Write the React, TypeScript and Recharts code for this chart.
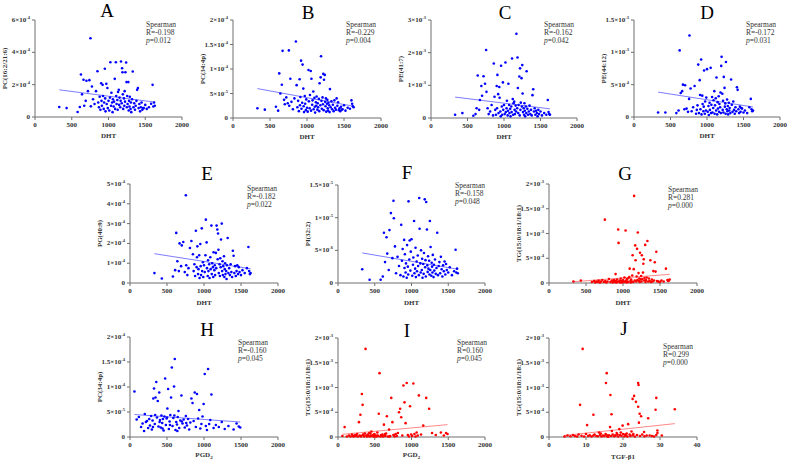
import React from 'react';
import { ScatterChart, Scatter, XAxis, YAxis, ReferenceLine } from 'recharts';

const FONT = '"Liberation Serif", "Times New Roman", serif';
const BLUE = '#0000ff';
const RED = '#ff0000';

// shared x values (same subjects in panels A-G)
const DHT = [
  330, 430, 580, 610, 625, 640, 660, 670, 690, 700,
  720, 740, 755, 760, 775, 790, 810, 830, 850, 860,
  870, 880, 890, 900, 905, 910, 920, 925, 935, 940,
  950, 955, 960, 970, 975, 985, 990, 1000, 1010, 1020,
  1025, 1035, 1040, 1050, 1055, 1060, 1070, 1075, 1085, 1090,
  1100, 1105, 1110, 1120, 1125, 1130, 1140, 1145, 1150, 1160,
  1165, 1170, 1180, 1185, 1190, 1195, 1200, 1210, 1215, 1220,
  1225, 1230, 1240, 1245, 1250, 1255, 1260, 1270, 1275, 1280,
  1285, 1290, 1300, 1305, 1310, 1320, 1330, 1340, 1350, 1360,
  1370, 1380, 1390, 1400, 1410, 1420, 1430, 1440, 1450, 1460,
  1480, 1500, 1520, 1550, 1580, 1600, 1610, 1620, 1630, 1470,
];

// A: PC(16:2/21:6), x1e-4
const PC_16_2_21_6 = [
  0.62, 0.55, 0.31, 0.62, 2.63, 1.4, 2.3, 0.7, 1.0, 2.24,
  1.6, 2.28, 4.87, 0.66, 1.89, 1.1, 0.8, 1.6, 2.83, 0.9,
  0.6, 1.25, 0.45, 2.09, 1.0, 0.7, 1.99, 1.3, 0.5, 0.9,
  2.98, 1.15, 0.35, 2.05, 0.8, 1.79, 0.55, 1.0, 0.4, 1.2,
  3.39, 0.7, 1.5, 0.9, 0.3, 1.1, 0.65, 0.95, 2.36, 0.5,
  3.39, 1.3, 0.8, 1.05, 0.45, 1.55, 1.68, 0.75, 1.2, 0.6,
  1.0, 3.43, 0.85, 3.02, 2.77, 1.4, 0.5, 1.15, 0.7, 1.6,
  0.95, 2.77, 3.37, 2.16, 0.6, 1.3, 0.8, 2.16, 0.4, 1.0,
  0.65, 1.25, 0.5, 0.9, 0.3, 1.1, 2.81, 0.6, 0.85, 0.45,
  0.7, 1.0, 1.68, 1.79, 0.55, 0.8, 0.35, 0.6, 0.9, 0.45,
  0.55, 0.75, 0.5, 0.6, 0.82, 1.99, 0.65, 0.9, 0.7, 0.55,
];

// B: PC(34:4p), x1e-5
const PC_34_4P = [
  2.0, 1.7, 2.3, 1.5, 9.1, 5.0, 6.8, 13.7, 3.7, 2.8,
  4.2, 3.0, 13.8, 2.5, 8.0, 3.3, 1.8, 4.0, 15.6, 6.7,
  2.2, 3.5, 1.4, 7.9, 2.6, 4.3, 11.7, 1.9, 3.1, 10.9,
  6.0, 2.4, 1.2, 4.5, 2.9, 1.6, 3.8, 2.1, 1.3, 9.8,
  3.4, 2.0, 4.7, 9.6, 1.5, 8.0, 2.7, 3.6, 5.4, 1.8,
  4.1, 2.3, 1.1, 3.2, 2.5, 4.4, 1.7, 3.0, 2.2, 3.9,
  1.4, 7.1, 2.6, 8.3, 12.6, 3.5, 1.9, 4.2, 2.8, 9.0,
  1.6, 7.8, 8.8, 3.3, 2.4, 4.0, 1.3, 2.9, 3.7, 2.0,
  1.5, 3.1, 2.6, 1.2, 5.9, 2.2, 3.4, 1.8, 2.7, 1.4,
  3.6, 2.1, 1.7, 4.0, 2.5, 3.2, 1.6, 2.0, 1.4, 2.3,
  1.8, 2.6, 1.5, 2.1, 1.9, 3.6, 2.9, 2.4, 2.2, 1.7,
];

// C: PE(41:7), x1e-3
const PE_41_7 = [
  0.10, 0.15, 0.07, 0.12, 0.30, 1.30, 0.25, 0.55, 0.98, 0.68,
  1.28, 1.05, 2.08, 0.80, 0.30, 0.12, 0.20, 0.40, 0.08, 1.67,
  0.65, 0.25, 0.10, 0.98, 0.30, 1.32, 0.73, 0.15, 0.95, 0.62,
  0.20, 0.05, 1.60, 0.35, 0.10, 1.09, 0.25, 0.40, 0.12, 1.70,
  0.18, 0.30, 0.53, 0.08, 0.22, 1.05, 0.40, 0.15, 0.28, 0.05,
  0.35, 0.18, 1.82, 0.58, 0.10, 0.45, 0.50, 0.25, 0.12, 0.38,
  0.20, 2.58, 0.30, 1.85, 0.92, 0.15, 0.40, 1.27, 0.08, 1.52,
  0.25, 0.47, 1.22, 0.35, 1.62, 0.75, 0.18, 0.30, 0.10, 0.45,
  0.22, 0.05, 0.35, 0.15, 1.43, 0.28, 0.10, 0.20, 0.38, 0.12,
  0.25, 0.08, 0.70, 0.88, 0.20, 0.30, 0.10, 0.22, 0.15, 0.05,
  0.12, 0.20, 0.08, 0.15, 0.10, 0.55, 0.18, 0.12, 0.10, 0.25,
];

// D: PE(44:12), x1e-4
const PE_44_12 = [
  0.7, 0.7, 0.6, 1.0, 10.3, 3.7, 4.0, 5.0, 1.2, 4.9,
  1.3, 0.8, 2.8, 12.6, 4.4, 0.9, 1.5, 4.8, 0.5, 1.1,
  1.8, 8.1, 0.6, 5.7, 3.4, 1.2, 8.9, 0.4, 3.3, 2.0,
  0.9, 1.6, 7.2, 0.5, 2.4, 1.0, 3.0, 7.4, 0.8, 1.7,
  0.3, 2.2, 1.1, 7.6, 0.6, 1.9, 3.1, 0.7, 1.4, 2.6,
  4.0, 0.5, 1.8, 2.9, 1.0, 6.1, 0.4, 2.3, 1.3, 3.2,
  0.8, 2.0, 1.5, 3.8, 0.6, 7.9, 9.3, 3.6, 1.1, 2.5,
  0.7, 6.2, 4.5, 1.6, 2.1, 0.5, 8.5, 1.2, 2.7, 0.9,
  1.7, 0.4, 2.2, 1.0, 1.4, 0.6, 5.8, 1.9, 0.8, 2.4,
  1.1, 0.5, 1.5, 0.9, 4.6, 4.2, 1.2, 0.6, 1.6, 0.8,
  1.3, 0.7, 1.0, 0.6, 1.5, 2.8, 1.2, 0.9, 1.0, 1.4,
];

// E: PG(40:9), x1e-4
const PG_40_9 = [
  0.50, 0.23, 0.33, 0.65, 2.53, 1.10, 0.60, 2.00, 0.85, 1.90,
  2.07, 0.55, 4.43, 0.90, 0.40, 0.75, 1.77, 2.12, 1.45, 0.60,
  0.95, 0.35, 2.64, 0.80, 1.30, 1.85, 0.45, 0.70, 1.40, 0.25,
  1.97, 0.85, 0.40, 2.76, 0.60, 1.05, 0.30, 0.90, 0.55, 1.40,
  3.20, 2.05, 0.75, 0.35, 1.15, 0.60, 0.95, 0.25, 1.30, 0.70,
  2.90, 0.45, 1.00, 0.80, 0.30, 1.55, 0.65, 0.90, 0.40, 1.52,
  0.75, 2.90, 2.70, 1.20, 2.50, 1.68, 0.50, 0.95, 0.35, 1.25,
  0.80, 2.20, 3.00, 0.60, 1.10, 0.40, 0.85, 1.35, 0.30, 0.70,
  1.00, 0.45, 0.60, 0.20, 0.90, 2.27, 0.50, 0.75, 0.40, 0.95,
  0.55, 0.30, 1.63, 1.38, 0.50, 0.85, 0.35, 0.60, 0.90, 0.45,
  0.55, 0.40, 0.65, 0.50, 0.75, 1.82, 0.60, 0.45, 0.50, 0.80,
];

// F: PI(32:2), x1e-6
const PI_32_2 = [
  2.1, 0.5, 0.5, 1.0, 7.7, 3.2, 7.0, 4.5, 2.0, 8.1,
  10.7, 3.8, 12.6, 9.9, 5.6, 1.5, 4.0, 2.6, 1.2, 8.9,
  3.4, 5.2, 1.0, 6.6, 2.3, 4.4, 1.6, 3.0, 0.8, 5.8,
  2.5, 1.3, 12.5, 3.6, 6.5, 1.9, 4.8, 6.7, 1.1, 2.8,
  3.9, 9.5, 1.5, 2.2, 5.4, 0.9, 3.3, 1.8, 4.2, 2.6,
  1.2, 13.0, 8.3, 3.0, 1.6, 5.0, 2.0, 3.7, 0.8, 2.9,
  1.4, 4.6, 12.8, 2.4, 3.5, 1.0, 12.4, 8.2, 2.7, 1.7,
  4.1, 2.2, 3.4, 1.3, 9.5, 2.0, 5.5, 1.1, 3.1, 2.5,
  1.6, 4.3, 0.9, 2.8, 1.9, 3.6, 1.4, 2.3, 7.7, 1.2,
  2.6, 3.2, 1.5, 4.0, 2.1, 1.0, 2.7, 1.8, 3.3, 1.3,
  2.0, 1.6, 2.4, 1.2, 1.8, 5.1, 1.6, 2.2, 1.5, 2.9,
];

// G: TG(15:0/18:1/18:1) vs DHT, x1e-4
const TG_DHT = [
  0.3, 0.5, 0.2, 0.4, 0.1, 0.3, 0.2, 0.5, 0.1, 0.3,
  0.6, 0.2, 12.8, 0.4, 0.1, 0.3, 0.8, 0.2, 0.5, 0.1,
  0.3, 0.6, 0.2, 1.8, 0.4, 0.1, 0.7, 0.2, 10.8, 8.1,
  0.3, 0.5, 0.1, 0.9, 0.2, 0.4, 0.1, 0.6, 0.3, 1.1,
  0.2, 10.6, 0.5, 0.1, 0.8, 0.3, 0.2, 1.0, 1.2, 2.9,
  0.4, 0.1, 0.7, 0.3, 1.5, 5.6, 0.2, 2.8, 17.6, 0.5,
  7.6, 4.6, 0.3, 1.3, 6.9, 0.6, 10.2, 2.0, 0.4, 0.9,
  0.2, 6.1, 0.7, 1.4, 0.3, 5.6, 0.8, 2.1, 3.9, 4.8,
  0.5, 1.0, 7.7, 0.2, 0.6, 1.1, 8.5, 0.3, 0.9, 0.4,
  4.6, 0.2, 0.7, 0.3, 2.4, 0.5, 4.2, 2.3, 6.3, 0.4,
  0.3, 0.2, 0.5, 0.3, 2.9, 0.6, 0.4, 0.5, 0.7, 0.3,
];

// shared x values for panels H and I
const PGD2 = [
  60, 90, 120, 150, 170, 190, 200, 215, 230, 245,
  260, 270, 285, 295, 305, 315, 325, 335, 345, 355,
  365, 375, 385, 395, 405, 415, 425, 435, 445, 455,
  465, 475, 485, 495, 505, 515, 525, 535, 545, 555,
  565, 575, 585, 595, 605, 615, 625, 635, 645, 655,
  665, 680, 695, 710, 725, 740, 755, 770, 785, 800,
  815, 830, 845, 860, 875, 890, 905, 920, 935, 950,
  965, 980, 995, 1010, 1025, 1040, 1055, 1070, 1085, 1100,
  1130, 1160, 1200, 1240, 1280, 1330, 1400, 1440, 1470, 1490,
  310, 340, 400, 440, 500, 540, 600, 640, 700, 760,
];

// H: PC(34:4p) vs PGD2, x1e-5
const PC_34_4P_PGD = [
  9.1, 3.5, 4.0, 2.0, 2.7, 1.2, 4.6, 3.0, 3.2, 1.8,
  3.6, 2.3, 4.2, 1.5, 3.3, 7.7, 9.7, 2.6, 7.9, 11.0,
  3.9, 7.2, 2.1, 8.9, 3.4, 1.9, 4.3, 2.8, 3.6, 1.3,
  4.1, 11.7, 2.4, 3.7, 5.7, 9.6, 1.6, 3.1, 4.4, 7.9,
  13.9, 2.2, 3.8, 10.1, 15.6, 1.4, 3.0, 2.5, 4.0, 5.2,
  1.8, 3.3, 8.3, 2.7, 3.5, 1.9, 4.2, 2.3, 3.6, 1.5,
  2.9, 7.7, 6.8, 3.2, 8.9, 2.0, 8.6, 3.7, 5.4, 1.7,
  2.6, 4.1, 6.6, 12.6, 2.2, 1.4, 13.6, 2.6, 3.4, 8.5,
  1.8, 2.4, 2.0, 3.0, 1.6, 2.2, 1.5, 2.7, 2.1, 1.9,
  2.0, 4.4, 3.0, 1.7, 3.9, 2.4, 4.3, 1.2, 3.1, 2.8,
];

// I: TG(15:0/18:1/18:1) vs PGD2, x1e-4
const TG_PGD = [
  0.2, 2.0, 0.1, 0.3, 0.1, 0.5, 0.2, 0.1, 0.4, 0.2,
  0.6, 0.1, 3.0, 0.3, 4.5, 0.2, 8.7, 6.5, 0.4, 0.1,
  0.7, 17.8, 0.3, 0.1, 0.5, 0.2, 0.8, 0.1, 0.3, 1.1,
  0.2, 0.4, 0.1, 0.6, 0.2, 0.3, 0.1, 0.9, 0.2, 4.7,
  12.9, 0.1, 0.4, 0.2, 0.5, 0.1, 2.5, 0.3, 0.2, 0.7,
  4.2, 0.1, 1.5, 0.2, 7.9, 3.0, 0.4, 0.1, 0.6, 0.2,
  0.8, 5.0, 5.7, 4.0, 0.3, 10.4, 7.0, 2.8, 10.9, 0.4,
  0.1, 6.2, 0.5, 0.2, 10.8, 0.6, 0.1, 0.9, 0.3, 8.4,
  0.5, 2.3, 7.9, 5.7, 0.8, 0.4, 0.9, 0.3, 0.8, 0.6,
  0.1, 0.5, 0.2, 0.7, 0.1, 0.3, 0.2, 0.6, 0.1, 0.4,
];

// J: TG(15:0/18:1/18:1) vs TGF-β1, x1e-4
const TGF_B1 = [
  9.1, 15.6, 15.4, 24.1, 24.2, 16.6, 23.0, 22.6, 29.0, 23.5,
  24.1, 34.0, 28.8, 24.5, 24.9, 16.9, 12.0, 26.8, 8.4, 24.3,
  10.3, 16.5, 19.9, 21.4, 19.0, 22.3, 25.7, 29.3, 29.3, 27.2,
  13.5, 12.0, 4.2, 5.0, 5.8, 6.5, 7.0, 7.6, 8.0, 8.8,
  9.5, 10.0, 10.6, 11.0, 11.5, 12.3, 12.8, 13.2, 13.8, 14.2,
  14.6, 15.0, 15.3, 15.8, 16.2, 16.8, 17.2, 17.6, 18.0, 18.3,
  18.7, 19.2, 19.6, 20.0, 20.4, 20.8, 21.2, 21.8, 22.0, 22.6,
  23.2, 23.8, 24.6, 25.2, 25.8, 26.4, 27.8, 28.4, 29.0, 30.5,
  14.0, 16.0, 17.0, 18.5, 19.4, 20.6, 21.0, 22.8, 17.8, 15.6,
];
const TG_TGF = [
  17.8, 12.9, 10.9, 10.9, 10.5, 8.5, 8.3, 7.7, 7.9, 7.1,
  6.1, 5.6, 5.5, 4.7, 4.2, 4.6, 4.5, 3.8, 6.5, 2.9,
  2.4, 2.0, 2.3, 2.6, 1.6, 1.1, 1.0, 0.8, 1.3, 0.3,
  0.9, 0.3, 0.1, 0.3, 0.15, 0.4, 0.2, 0.1, 0.5, 0.25,
  0.1, 0.6, 0.2, 0.35, 0.1, 0.5, 0.2, 0.15, 0.4, 0.1,
  0.3, 0.2, 0.6, 0.1, 0.35, 0.2, 0.5, 0.15, 0.3, 0.8,
  0.1, 0.4, 0.2, 0.6, 0.15, 0.3, 0.1, 0.5, 0.2, 0.35,
  0.1, 0.4, 0.2, 0.5, 0.15, 0.3, 0.2, 0.1, 0.4, 0.3,
  0.7, 0.05, 1.2, 0.5, 0.9, 0.5, 0.7, 0.6, 0.3, 0.4,
];

// axis ticks
const CONC_TICKS = [0, 500, 1000, 1500, 2000];
const TGF_TICKS = [0, 10, 20, 30, 40];
const TICKS_A = [0, 2, 4, 6];
const LABELS_A = ['0', '2×10^-4', '4×10^-4', '6×10^-4'];
const TICKS_PC34 = [0, 5, 10, 15, 20];
const LABELS_PC34 = ['0', '5×10^-5', '1×10^-4', '1.5×10^-4', '2×10^-4'];
const TICKS_C = [0, 1, 2, 3];
const LABELS_C = ['0', '1×10^-3', '2×10^-3', '3×10^-3'];
const TICKS_D = [0, 5, 10, 15];
const LABELS_D = ['0', '5×10^-4', '1×10^-3', '1.5×10^-3'];
const TICKS_E = [0, 1, 2, 3, 4, 5];
const LABELS_E = ['0', '1×10^-4', '2×10^-4', '3×10^-4', '4×10^-4', '5×10^-4'];
const TICKS_F = [0, 5, 10, 15];
const LABELS_F = ['0', '5×10^-6', '1×10^-5', '1.5×10^-5'];
const TICKS_TG = [0, 5, 10, 15, 20];
const LABELS_TG = ['0', '5×10^-4', '1×10^-3', '1.5×10^-3', '2×10^-3'];

// fitted lines [x0, y0, x1, y1]
const FIT_A = [330, 1.68, 1630, 0.92];
const FIT_B = [330, 6.0, 1630, 2.4];
const FIT_C = [330, 0.64, 1630, 0.28];
const FIT_D = [330, 3.85, 1630, 1.55];
const FIT_E = [330, 1.48, 1630, 0.72];
const FIT_F = [330, 4.6, 1630, 2.1];
const FIT_G = [330, 0.25, 1630, 1.75];
const FIT_H = [60, 4.5, 1490, 3.0];
const FIT_I = [60, 0.55, 1490, 2.5];
const FIT_J = [4, 0.3, 34, 2.7];

const R_VALUES = ['-0.198', '-0.229', '-0.162', '-0.172', '-0.182', '-0.158', '0.281', '-0.160', '0.160', '0.299'];
const P_VALUES = ['0.012', '0.004', '0.042', '0.031', '0.022', '0.048', '0.000', '0.045', '0.045', '0.000'];

const panels = [
  { id: 'A', box: [35, 182, 20, 117], xs: DHT, ys: PC_16_2_21_6, xMax: 2000, xTicks: CONC_TICKS, yMax: 6, yTicks: TICKS_A, yLabels: LABELS_A, yTitle: 'PC(16:2/21:6)', xTitle: 'DHT', red: false, fit: FIT_A, title: [107, 10], stat: [146, 24], xTitleY: 136 },
  { id: 'B', box: [233, 381, 20, 118], xs: DHT, ys: PC_34_4P, xMax: 2000, xTicks: CONC_TICKS, yMax: 20, yTicks: TICKS_PC34, yLabels: LABELS_PC34, yTitle: 'PC(34:4p)', xTitle: 'DHT', red: false, fit: FIT_B, title: [308, 12], stat: [346, 24], xTitleY: 137 },
  { id: 'C', box: [431, 577, 20, 118], xs: DHT, ys: PE_41_7, xMax: 2000, xTicks: CONC_TICKS, yMax: 3, yTicks: TICKS_C, yLabels: LABELS_C, yTitle: 'PE(41:7)', xTitle: 'DHT', red: false, fit: FIT_C, title: [505, 12], stat: [544, 24], xTitleY: 137 },
  { id: 'D', box: [634, 780, 20, 117], xs: DHT, ys: PE_44_12, xMax: 2000, xTicks: CONC_TICKS, yMax: 15, yTicks: TICKS_D, yLabels: LABELS_D, yTitle: 'PE(44:12)', xTitle: 'DHT', red: false, fit: FIT_D, title: [707, 12], stat: [746, 24], xTitleY: 136 },
  { id: 'E', box: [130, 278, 184, 283], xs: DHT, ys: PG_40_9, xMax: 2000, xTicks: CONC_TICKS, yMax: 5, yTicks: TICKS_E, yLabels: LABELS_E, yTitle: 'PG(40:9)', xTitle: 'DHT', red: false, fit: FIT_E, title: [207, 173], stat: [247, 188], xTitleY: 303 },
  { id: 'F', box: [338, 485, 185, 283], xs: DHT, ys: PI_32_2, xMax: 2000, xTicks: CONC_TICKS, yMax: 15, yTicks: TICKS_F, yLabels: LABELS_F, yTitle: 'PI(32:2)', xTitle: 'DHT', red: false, fit: FIT_F, title: [407, 172], stat: [455, 185], xTitleY: 303 },
  { id: 'G', box: [549, 697, 184, 283], xs: DHT, ys: TG_DHT, xMax: 2000, xTicks: CONC_TICKS, yMax: 20, yTicks: TICKS_TG, yLabels: LABELS_TG, yTitle: 'TG(15:0/18:1/18:1)', xTitle: 'DHT', red: true, fit: FIT_G, title: [625, 173], stat: [668, 189], xTitleY: 303 },
  { id: 'H', box: [130, 278, 337, 437], xs: PGD2, ys: PC_34_4P_PGD, xMax: 2000, xTicks: CONC_TICKS, yMax: 20, yTicks: TICKS_PC34, yLabels: LABELS_PC34, yTitle: 'PC(34:4p)', xTitle: 'PGD2', red: false, fit: FIT_H, title: [207, 329], stat: [238, 342], xTitleY: 455 },
  { id: 'I', box: [338, 485, 338, 437], xs: PGD2, ys: TG_PGD, xMax: 2000, xTicks: CONC_TICKS, yMax: 20, yTicks: TICKS_TG, yLabels: LABELS_TG, yTitle: 'TG(15:0/18:1/18:1)', xTitle: 'PGD2', red: true, fit: FIT_I, title: [407, 330], stat: [457, 342], xTitleY: 455 },
  { id: 'J', box: [549, 697, 338, 437], xs: TGF_B1, ys: TG_TGF, xMax: 40, xTicks: TGF_TICKS, yMax: 20, yTicks: TICKS_TG, yLabels: LABELS_TG, yTitle: 'TG(15:0/18:1/18:1)', xTitle: 'TGF-β1', red: true, fit: FIT_J, title: [624, 328], stat: [663, 346], xTitleY: 457 },
];

const AXIS = '#6e6e6e';

function Panel({ p }: { p: any }) {
  const [l, r, t, b] = p.box;
  const w = r - l;
  const h = b - t;
  const data = p.xs.map((x: number, i: number) => ({ x, y: p.ys[i] }));
  const dot = p.red ? RED : BLUE;
  const lineColor = p.red ? '#ff6a6a' : '#5c5cff';

  const yTick = (props: any) => {
    const idx = p.yTicks.indexOf(props.payload.value);
    const [base, exp] = String(p.yLabels[idx] ?? props.payload.value).split('^');
    return (
      <text x={props.x} y={props.y} textAnchor="end" dominantBaseline="central" fontFamily={FONT} fontSize={7} fontWeight="bold" fill="#333">
        <tspan>{base}</tspan>
        {exp && <tspan dy={-3} fontSize={4.5}>{exp}</tspan>}
      </text>
    );
  };

  return (
    <div style={{ position: 'absolute', left: l - 45, top: t - 10 }}>
      <ScatterChart width={w + 55} height={h + 40} margin={{ top: 10, right: 10, bottom: 10, left: 5 }}>
        <XAxis
          type="number"
          dataKey="x"
          domain={[0, p.xMax]}
          ticks={p.xTicks}
          interval={0}
          height={20}
          tickSize={3}
          tickMargin={2}
          stroke={AXIS}
          tick={{ fontFamily: FONT, fontSize: 7, fontWeight: 'bold', fill: '#333' }}
        />
        <YAxis
          type="number"
          dataKey="y"
          domain={[0, p.yMax]}
          ticks={p.yTicks}
          interval={0}
          width={40}
          tickSize={3}
          tickMargin={2}
          stroke={AXIS}
          tick={yTick}
        />
        <ReferenceLine
          segment={[{ x: p.fit[0], y: p.fit[1] }, { x: p.fit[2], y: p.fit[3] }]}
          stroke={lineColor}
          strokeWidth={0.8}
        />
        <Scatter
          data={data}
          isAnimationActive={false}
          shape={(s: any) => <circle cx={s.cx} cy={s.cy} r={1.3} fill={dot} />}
        />
      </ScatterChart>
    </div>
  );
}

function Labels() {
  return (
    <svg width={789} height={462} style={{ position: 'absolute', left: 0, top: 0, pointerEvents: 'none' }}>
      {panels.map((p, i) => {
        const [l, r, t, b] = p.box;
        const cy = (t + b) / 2;
        const [sx, sy] = p.stat;
        return (
          <g key={p.id} fontFamily={FONT}>
            <text x={p.title[0]} y={p.title[1]} textAnchor="middle" dominantBaseline="central" fontSize={19} fill="#000">
              {p.id}
            </text>
            <text x={(l + r) / 2} y={p.xTitleY} textAnchor="middle" dominantBaseline="central" fontSize={7} fontWeight="bold" fill="#333">
              {p.xTitle === 'PGD2' ? (
                <>
                  <tspan>PGD</tspan>
                  <tspan dy={2} fontSize={5}>2</tspan>
                </>
              ) : (
                p.xTitle
              )}
            </text>
            <text
              x={l - 30}
              y={cy}
              textAnchor="middle"
              dominantBaseline="central"
              fontSize={7}
              fontWeight="bold"
              fill="#333"
              transform={`rotate(-90 ${l - 30} ${cy})`}
            >
              {p.yTitle}
            </text>
            <g fontSize={7.5} fill="#333">
              <text x={sx} y={sy} dominantBaseline="central">Spearman</text>
              <text x={sx} y={sy + 8} dominantBaseline="central">R={R_VALUES[i]}</text>
              <text x={sx} y={sy + 16} dominantBaseline="central">
                <tspan fontStyle="italic">p</tspan>={P_VALUES[i]}
              </text>
            </g>
          </g>
        );
      })}
    </svg>
  );
}

export default function App() {
  return (
    <div style={{ position: 'absolute', left: 0, top: 0, width: 789, height: 462, background: '#fff', overflow: 'hidden' }}>
      {panels.map((p) => (
        <Panel key={p.id} p={p} />
      ))}
      <Labels />
    </div>
  );
}
